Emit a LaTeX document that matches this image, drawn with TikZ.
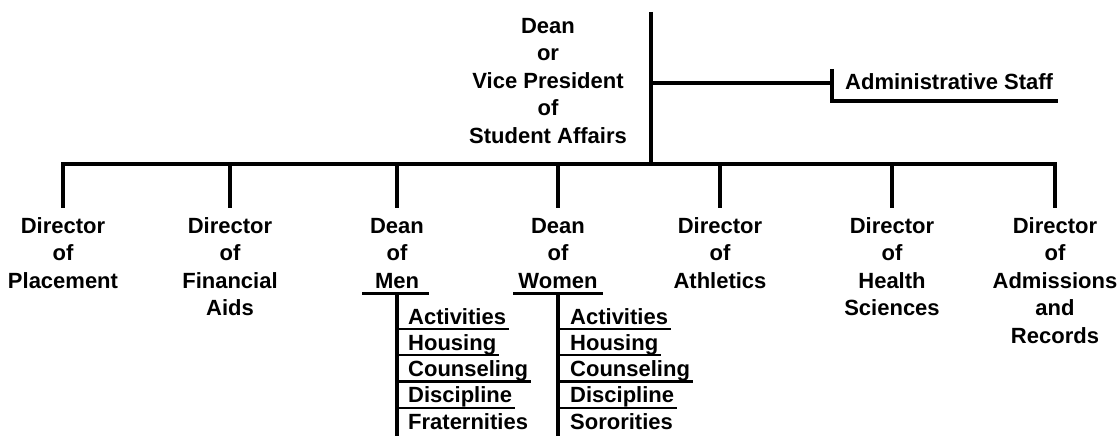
\documentclass[tikz,border=0pt]{standalone}
\usepackage{fontspec}
\setmainfont{Liberation Sans}
\usetikzlibrary{calc}
\begin{document}
\begin{tikzpicture}[x=1pt,y=-1pt,
  lbl/.style={align=center, inner sep=0pt, anchor=north,
              font=\fontsize{22}{27.5}\selectfont\bfseries},
  item/.style={anchor=base west, inner sep=0pt,
               font=\fontsize{22}{27.5}\selectfont\bfseries},
  main/.style={line width=3.2pt},
  uline/.style={line width=2.4pt}]
\fill[white] (0,0) rectangle (1117,436);
\useasboundingbox (0,0) rectangle (1117,436);

% head of the chart
\node[lbl] (head) at (548,13.75) {\strut Dean\\or\\Vice President\\of\\Student Affairs};
\coordinate (top) at (651,12);
\coordinate (bar) at (651,164);
\coordinate (bottom) at (0,436);
\draw[main] (top) -- (bar);

% staff branch
\coordinate (adminJ) at (651,83);
\coordinate (tickTop) at (832,69);
\coordinate (tickBot) at (832,103);
\coordinate (adminU) at (832,101);
\node[item] (admin) at (845,89) {Administrative Staff};
\draw[main] (adminJ) -- (adminJ -| tickTop);
\draw[main] (tickTop) -- (tickBot);
\draw[main] (adminU) -- (admin.base east |- adminU) -- ++(5,0);

% second level
\node[lbl] (placement)  at (63,213.75)   {\strut Director\\of\\Placement};
\node[lbl] (aid)        at (230,213.75)  {\strut Director\\of\\Financial\\Aids};
\node[lbl] (men)        at (397,213.75)  {\strut Dean\\of\\Men};
\node[lbl] (women)      at (558,213.75)  {\strut Dean\\of\\Women};
\node[lbl] (athletics)  at (720,213.75)  {\strut Director\\of\\Athletics};
\node[lbl] (health)     at (892,213.75)  {\strut Director\\of\\Health\\Sciences};
\node[lbl] (admissions) at (1055,213.75) {\strut Director\\of\\Admissions\\and\\Records};

\draw[main] ([yshift=6pt]placement.north) -- (placement.north |- bar)
            -- (admissions.north |- bar) -- ([yshift=6pt]admissions.north);
\foreach \n in {aid,men,women,athletics,health}
  \draw[main] (\n.north |- bar) -- ([yshift=6pt]\n.north);

% dean of men
\coordinate (menJ) at ([yshift=-5pt]men.south);
\draw[main] ([xshift=-35pt]menJ) -- ([xshift=32pt]menJ);
\draw[main] (menJ) -- (menJ |- bottom);
\foreach \t [count=\i] in {Activities,Housing,Counseling,Discipline,Fraternities}
  \node[item] (m\i) at (408,{324+26.25*(\i-1)}) {\t};
\foreach \i in {1,...,4}
  \draw[uline] ($(menJ |- m\i.base)+(0,5)$) -- ($(m\i.base east)+(3,5)$);

% dean of women
\coordinate (womenJ) at ([yshift=-5pt]women.south);
\draw[main] ([xshift=-45pt]womenJ) -- ([xshift=45pt]womenJ);
\draw[main] (womenJ) -- (womenJ |- bottom);
\foreach \t [count=\i] in {Activities,Housing,Counseling,Discipline,Sororities}
  \node[item] (w\i) at (570,{324+26.25*(\i-1)}) {\t};
\foreach \i in {1,...,4}
  \draw[uline] ($(womenJ |- w\i.base)+(0,5)$) -- ($(w\i.base east)+(3,5)$);
\end{tikzpicture}
\end{document}
